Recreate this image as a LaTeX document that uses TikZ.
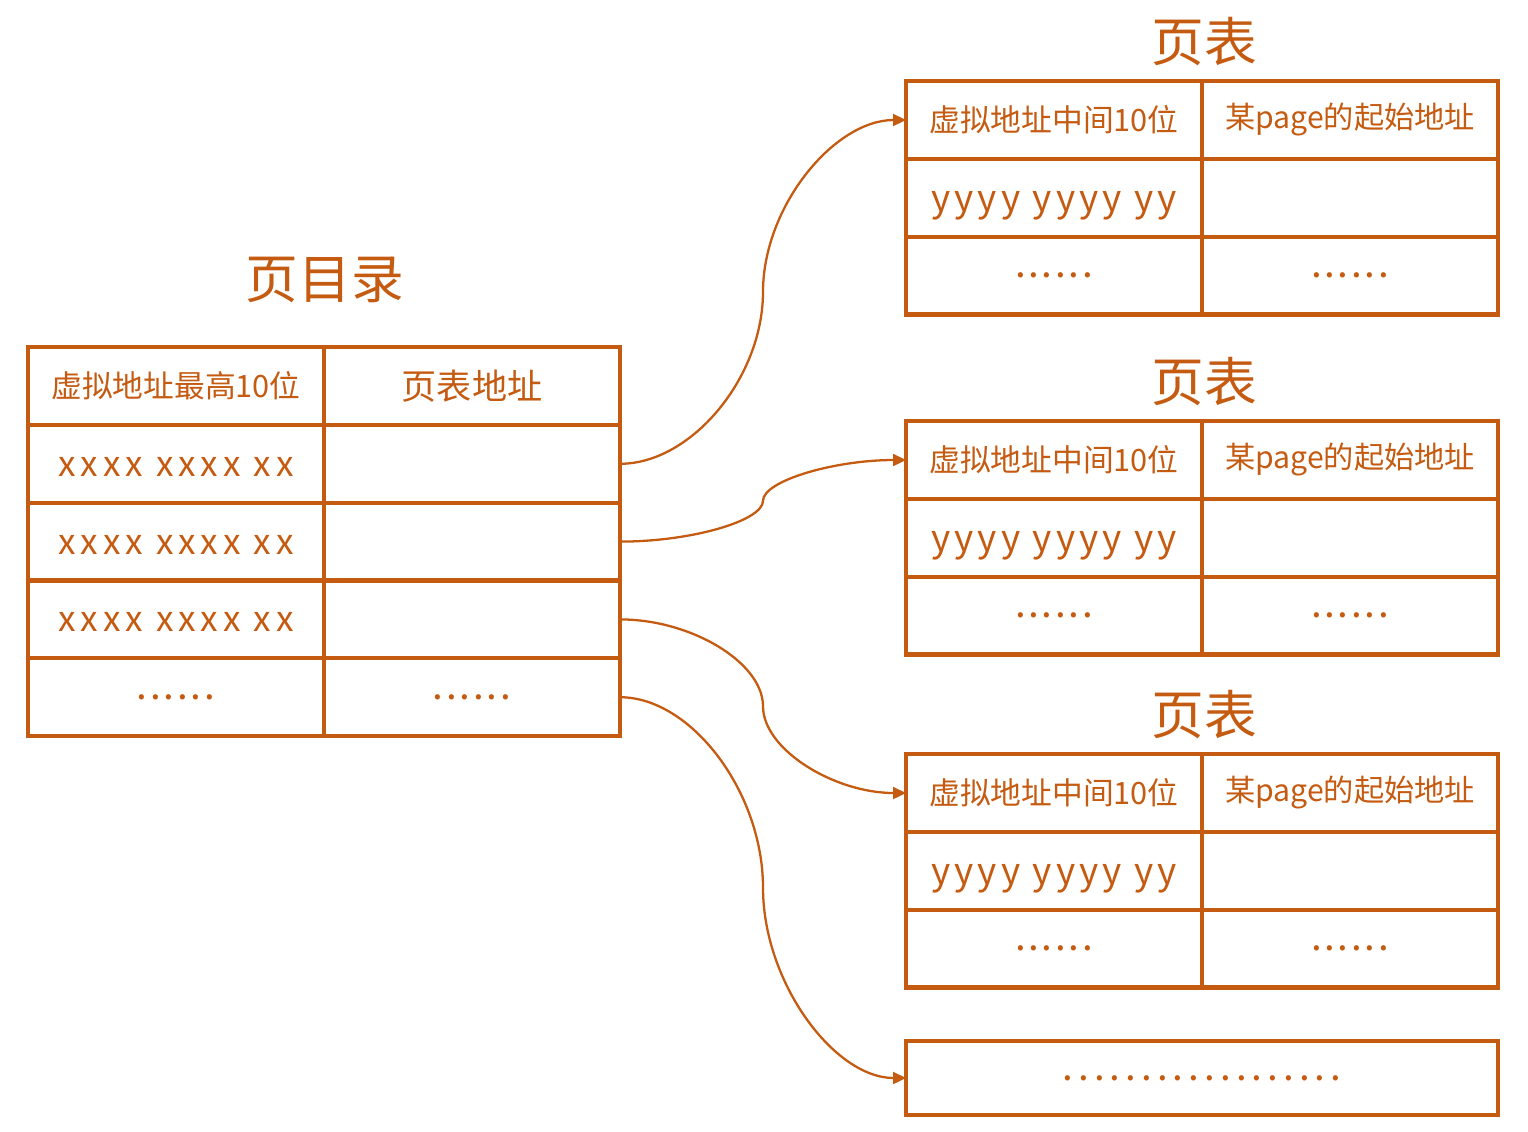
\documentclass[tikz,border=0pt]{standalone}
\usepackage{fontspec}
\setmainfont{Noto Sans CJK SC}
\usepackage{tikz}
\usetikzlibrary{positioning, calc, arrows.meta}

\definecolor{rust}{RGB}{197,90,17}

\tikzset{
    cell/.style={draw=rust, line width=2.3pt, minimum width=5.92cm, minimum height=1.556cm,
        inner sep=0pt, outer sep=0pt, text=rust, font=\fontsize{17.5}{20}\selectfont},
    title/.style={text=rust, font=\fontsize{30}{32}\selectfont},
    code/.style={font=\fontsize{20}{22}\selectfont\addfontfeature{LetterSpace=14},
        text height=0.5cm, text depth=0cm},
    dots/.style={font=\fontsize{22}{24}\selectfont\addfontfeature{LetterSpace=7}},
    link/.style={draw=rust, line width=1.3pt, -{Triangle[length=0.26cm, width=0.24cm]}}
}

\begin{document}
\begin{tikzpicture}
    \useasboundingbox (0,0) rectangle (30.56,-22.62);

    % Page directory
    \node[title] (dirtitle) at (6.5,-5.6) {页目录};
    \node[cell] (dh) at (3.52,-7.72) {虚拟地址最高10位};
    \node[cell, right=0pt of dh, font=\fontsize{20}{22}\selectfont] (dha) {页表地址};
    \node[cell, code, below=0pt of dh] (d1) {xxxx xxxx xx};
    \node[cell, right=0pt of d1] (d1a) {};
    \node[cell, code, below=0pt of d1] (d2) {xxxx xxxx xx};
    \node[cell, right=0pt of d2] (d2a) {};
    \node[cell, code, below=0pt of d2] (d3) {xxxx xxxx xx};
    \node[cell, right=0pt of d3] (d3a) {};
    \node[cell, dots, below=0pt of d3] (d4) {......};
    \node[cell, dots, right=0pt of d4] (d4a) {......};

    % Page tables
    \foreach \n/\y in {1/-2.40, 2/-9.20, 3/-15.86} {
        \node[title] (t\n) at (24.08,\y+1.56) {页表};
        \node[cell] (p\n h) at (21.08,\y) {虚拟地址中间10位};
        \node[cell, font=\fontsize{17.2}{20}\selectfont, right=0pt of p\n h] (p\n ha) {某page的起始地址};
        \node[cell, code, font=\fontsize{21}{24}\selectfont\addfontfeature{LetterSpace=11},
            text height=0.55cm, below=0pt of p\n h] (p\n r) {yyyy yyyy yy};
        \node[cell, right=0pt of p\n r] (p\n ra) {};
        \node[cell, dots, below=0pt of p\n r] (p\n d) {......};
        \node[cell, dots, right=0pt of p\n d] (p\n da) {......};
    }

    % More tables
    \node[cell, dots, minimum width=11.84cm, minimum height=1.48cm,
        font=\fontsize{22}{24}\selectfont\addfontfeature{LetterSpace=13}] (more) at (24.04,-21.56) {..................};

    % Connectors
    \coordinate (m1) at ($(d1a.east)!0.5!(p1h.west)$);
    \coordinate (m2) at ($(d2a.east)!0.5!(p2h.west)$);
    \coordinate (m3) at ($(d3a.east)!0.5!(p3h.west)$);
    \coordinate (m4) at ($(d4a.east)!0.5!(more.west)$);
    \draw[link] (d1a.east) .. controls +(1.43,0) and +(0,-1.71) .. (m1)
        .. controls +(0,1.71) and +(-1.43,0) .. (p1h.west);
    \draw[link] (d2a.east) .. controls +(1.43,0) and +(0,-0.4) .. (m2)
        .. controls +(0,0.4) and +(-1.43,0) .. (p2h.west);
    \draw[link] (d3a.east) .. controls +(1.43,0) and +(0,0.87) .. (m3)
        .. controls +(0,-0.87) and +(-1.43,0) .. (p3h.west);
    \draw[link] (d4a.east) .. controls +(1.43,0) and +(0,1.9) .. (m4)
        .. controls +(0,-1.9) and +(-1.43,0) .. (more.west);
\end{tikzpicture}
\end{document}
